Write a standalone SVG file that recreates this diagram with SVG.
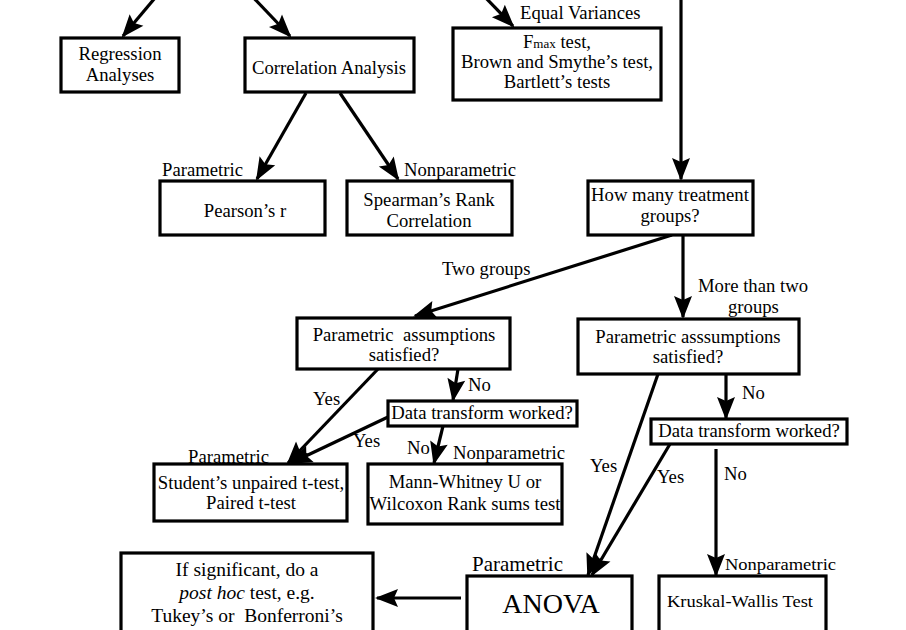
<svg xmlns="http://www.w3.org/2000/svg" width="906" height="630" viewBox="0 0 906 630">
<style>
.box{fill:#fff;stroke:#000;stroke-width:3.2}
.t{font-family:"Liberation Serif","Times New Roman",serif;font-size:18.7px;fill:#000}
.c{text-anchor:middle}
.ln{fill:none;stroke:#000;stroke-width:3.2}
.a{marker-end:url(#ah)}
</style>
<defs>
<marker id="ah" markerUnits="userSpaceOnUse" markerWidth="24" markerHeight="20" refX="21" refY="9" orient="auto" overflow="visible">
<path d="M0,0 L23,9 L0,18 L4,9 z" fill="#000"/>
</marker>
</defs>
<rect width="906" height="630" fill="#fff"/>
<g id="connectors">
<line class="ln a" x1="160" y1="-8" x2="123" y2="36"/>
<line class="ln a" x1="248" y1="-8" x2="290" y2="36"/>
<line class="ln a" x1="482" y1="-6" x2="513" y2="26"/>
<line class="ln a" x1="681" y1="-2" x2="681" y2="179"/>
<line class="ln a" x1="306" y1="93" x2="257" y2="179"/>
<line class="ln a" x1="340" y1="93" x2="398" y2="179"/>
<line class="ln a" x1="672" y1="235" x2="415" y2="316"/>
<line class="ln a" x1="683" y1="235" x2="683" y2="317"/>
<line class="ln a" x1="378" y1="369" x2="288" y2="463"/>
<line class="ln a" x1="388" y1="417" x2="291" y2="463"/>
<line class="ln a" x1="458" y1="369" x2="453" y2="400"/>
<line class="ln a" x1="443" y1="426" x2="434" y2="463"/>
<line class="ln a" x1="726" y1="374" x2="726" y2="418"/>
<line class="ln a" x1="658" y1="374" x2="588" y2="575"/>
<line class="ln a" x1="670" y1="444" x2="592" y2="575"/>
<line class="ln a" x1="716" y1="449" x2="716" y2="575"/>
<line class="ln a" x1="461" y1="598" x2="377" y2="598"/>
</g>
<g id="labels">
<text class="t" x="520" y="19">Equal Variances</text>
<text class="t" x="162" y="176">Parametric</text>
<text class="t" x="404" y="176">Nonparametric</text>
<text class="t" x="442" y="275">Two groups</text>
<text class="t" x="698" y="292">More than two</text>
<text class="t" x="728" y="313">groups</text>
<text class="t" x="313" y="405">Yes</text>
<text class="t" x="468" y="391">No</text>
<text class="t" x="353" y="447">Yes</text>
<text class="t" x="407" y="454">No</text>
<text class="t" x="453" y="459">Nonparametric</text>
<text class="t" x="188" y="463">Parametric</text>
<text class="t" x="742" y="399">No</text>
<text class="t" x="590" y="472">Yes</text>
<text class="t" x="657" y="483">Yes</text>
<text class="t" x="724" y="480">No</text>
<text class="t" x="472" y="571" style="font-size:21px">Parametric</text>
<text class="t" x="725" y="570" textLength="111" lengthAdjust="spacingAndGlyphs" style="font-size:17px">Nonparametric</text>
</g>
<g id="regression">
<rect class="box" x="61" y="38" width="118" height="54"/>
<text class="t c" x="120" y="60">Regression</text>
<text class="t c" x="120" y="81">Analyses</text>
</g>
<g id="correlation">
<rect class="box" x="245" y="38" width="169" height="54"/>
<text class="t c" x="329" y="74">Correlation Analysis</text>
</g>
<g id="variance-tests">
<rect class="box" x="453" y="28" width="208" height="72"/>
<text class="t c" x="557" y="48">F<tspan style="font-size:13px">max</tspan> test,</text>
<text class="t c" x="557" y="68">Brown and Smythe’s test,</text>
<text class="t c" x="557" y="88">Bartlett’s tests</text>
</g>
<g id="pearson">
<rect class="box" x="160" y="181" width="165" height="54"/>
<text class="t c" x="245" y="217">Pearson’s r</text>
</g>
<g id="spearman">
<rect class="box" x="347" y="181" width="165" height="54"/>
<text class="t c" x="429" y="206">Spearman’s Rank</text>
<text class="t c" x="429" y="227">Correlation</text>
</g>
<g id="how-many">
<rect class="box" x="588" y="181" width="165" height="54"/>
<text class="t c" x="670" y="201">How many treatment</text>
<text class="t c" x="670" y="222">groups?</text>
</g>
<g id="param-two">
<rect class="box" x="297" y="318" width="213" height="51"/>
<text class="t c" x="404" y="341">Parametric&#160; assumptions</text>
<text class="t c" x="404" y="361">satisfied?</text>
</g>
<g id="param-many">
<rect class="box" x="578" y="319" width="221" height="55"/>
<text class="t c" x="688" y="343">Parametric asssumptions</text>
<text class="t c" x="688" y="363">satisfied?</text>
</g>
<g id="transform-two">
<rect class="box" x="388" y="401" width="189" height="25"/>
<text class="t c" x="482" y="419">Data transform worked?</text>
</g>
<g id="transform-many">
<rect class="box" x="651" y="419" width="196" height="25"/>
<text class="t c" x="749" y="437">Data transform worked?</text>
</g>
<g id="student">
<rect class="box" x="154" y="464" width="193" height="57"/>
<text class="t c" x="251" y="489">Student’s unpaired t-test,</text>
<text class="t c" x="251" y="509">Paired t-test</text>
</g>
<g id="mann-whitney">
<rect class="box" x="368" y="464" width="194" height="60"/>
<text class="t c" x="465" y="488">Mann-Whitney U or</text>
<text class="t c" x="465" y="510">Wilcoxon Rank sums test</text>
</g>
<g id="post-hoc">
<rect class="box" x="121" y="553" width="252" height="90"/>
<text class="t c" x="247" y="576" style="font-size:19.5px">If significant, do a</text>
<text class="t c" x="247" y="599" style="font-size:19.5px"><tspan font-style="italic">post hoc</tspan> test, e.g.</text>
<text class="t c" x="247" y="622" style="font-size:19.5px" xml:space="preserve">Tukey’s or  Bonferroni’s</text>
</g>
<g id="anova">
<rect class="box" x="467" y="576" width="165" height="70"/>
<text class="t c" x="551" y="613" style="font-size:28px">ANOVA</text>
</g>
<g id="kruskal">
<rect class="box" x="659" y="576" width="167" height="70"/>
<text class="t" x="667" y="607" textLength="146" lengthAdjust="spacingAndGlyphs" style="font-size:17px">Kruskal-Wallis Test</text>
</g>
</svg>
